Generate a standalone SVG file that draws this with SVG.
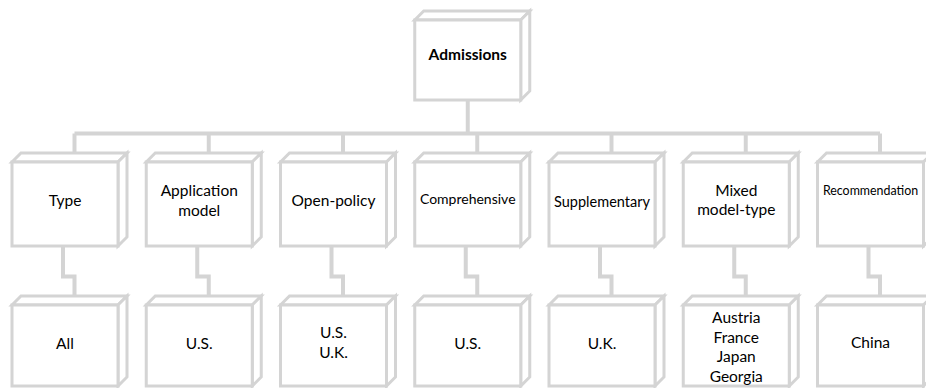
<svg xmlns="http://www.w3.org/2000/svg" width="926" height="388" viewBox="0 0 926 388">
  <style>
    .edge { fill: none; stroke: #d4d4d4; stroke-width: 4; stroke-linejoin: miter; }
    .face { fill: #ffffff; stroke: #d4d4d4; stroke-width: 3; stroke-linejoin: miter; }
    text { font-family: Lato, "Liberation Sans", sans-serif; font-size: 15.5px; fill: #000000; text-anchor: middle; }
    .bold { font-weight: bold; }
  </style>
  <defs>
    <!-- 3D block: front face 106 wide, depth 9 up and right -->
    <g id="block84">
      <path class="face" d="M0,0 L9,-9 L115,-9 L106,0 Z"/>
      <path class="face" d="M106,0 L115,-9 L115,75 L106,84 Z"/>
      <rect class="face" x="0" y="0" width="106" height="84"/>
    </g>
    <g id="block81">
      <path class="face" d="M0,0 L9,-9 L115,-9 L106,0 Z"/>
      <path class="face" d="M106,0 L115,-9 L115,72 L106,81 Z"/>
      <rect class="face" x="0" y="0" width="106" height="81"/>
    </g>
    <g id="block80">
      <path class="face" d="M0,0 L9,-9 L115,-9 L106,0 Z"/>
      <path class="face" d="M106,0 L115,-9 L115,71 L106,80 Z"/>
      <rect class="face" x="0" y="0" width="106" height="80"/>
    </g>
  </defs>

  <g id="connectors">
    <path class="edge" d="M467.75,100 V133.5"/>
    <path class="edge" d="M74.5,133.5 H880"/>
    <path class="edge" d="M74.5,133.5 V153"/>
    <path class="edge" d="M208.75,133.5 V153"/>
    <path class="edge" d="M343,133.5 V153"/>
    <path class="edge" d="M477.25,133.5 V153"/>
    <path class="edge" d="M611.5,133.5 V153"/>
    <path class="edge" d="M745.75,133.5 V153"/>
    <path class="edge" d="M880,133.5 V153"/>
    <path class="edge" d="M63,246 V276.5 H74.5 V296"/>
    <path class="edge" d="M197.25,246 V276.5 H208.75 V296"/>
    <path class="edge" d="M331.5,246 V276.5 H343 V296"/>
    <path class="edge" d="M465.75,246 V276.5 H477.25 V296"/>
    <path class="edge" d="M600,246 V276.5 H611.5 V296"/>
    <path class="edge" d="M734.25,246 V276.5 H745.75 V296"/>
    <path class="edge" d="M868.5,246 V276.5 H880 V296"/>
  </g>

  <g id="admissions">
    <use href="#block80" x="414.75" y="20"/>
    <text class="bold" x="467.75" y="60">Admissions</text>
  </g>

  <g id="type">
    <use href="#block84" x="12" y="162"/>
    <text x="65" y="205.5">Type</text>
  </g>
  <g id="application-model">
    <use href="#block84" x="146.25" y="162"/>
    <text x="199.25" y="196">Application</text>
    <text x="199.25" y="215.5">model</text>
  </g>
  <g id="open-policy">
    <use href="#block84" x="280.5" y="162"/>
    <text x="333.5" y="205.5">Open-policy</text>
  </g>
  <g id="comprehensive">
    <use href="#block84" x="414.75" y="162"/>
    <text x="467.75" y="204" style="font-size:14px">Comprehensive</text>
  </g>
  <g id="supplementary">
    <use href="#block84" x="549" y="162"/>
    <text x="602" y="206.5" style="font-size:14.5px">Supplementary</text>
  </g>
  <g id="mixed-model-type">
    <use href="#block84" x="683.25" y="162"/>
    <text x="736.25" y="195.5">Mixed</text>
    <text x="736.25" y="214.5">model-type</text>
  </g>
  <g id="recommendation">
    <use href="#block84" x="817.5" y="162"/>
    <text x="870.5" y="195" style="font-size:12.4px">Recommendation</text>
  </g>

  <g id="all">
    <use href="#block81" x="12" y="305"/>
    <text x="65" y="349">All</text>
  </g>
  <g id="us-application">
    <use href="#block81" x="146.25" y="305"/>
    <text x="199.25" y="349">U.S.</text>
  </g>
  <g id="us-uk">
    <use href="#block81" x="280.5" y="305"/>
    <text x="333.5" y="337.5">U.S.</text>
    <text x="333.5" y="357.5">U.K.</text>
  </g>
  <g id="us-comprehensive">
    <use href="#block81" x="414.75" y="305"/>
    <text x="467.75" y="349">U.S.</text>
  </g>
  <g id="uk">
    <use href="#block81" x="549" y="305"/>
    <text x="602" y="349">U.K.</text>
  </g>
  <g id="countries">
    <use href="#block81" x="683.25" y="305"/>
    <text x="736.25" y="323">Austria</text>
    <text x="736.25" y="342.5">France</text>
    <text x="736.25" y="362">Japan</text>
    <text x="736.25" y="381.5">Georgia</text>
  </g>
  <g id="china">
    <use href="#block81" x="817.5" y="305"/>
    <text x="870.5" y="347.5">China</text>
  </g>
</svg>
